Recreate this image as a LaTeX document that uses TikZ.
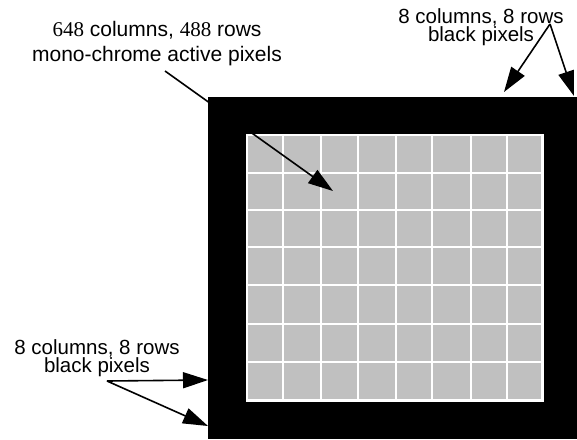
\documentclass[tikz,border=0pt]{standalone}
\usepackage{fontspec}
\setmainfont{Liberation Sans}
\newfontfamily\numfont{Liberation Serif}
\usetikzlibrary{arrows.meta}
\definecolor{cellgray}{RGB}{192,192,192}
\begin{document}
\begin{tikzpicture}[x=1pt,y=-1pt,
  lbl/.style={align=center,inner sep=0pt,font=\fontsize{20.5}{18.5}\selectfont},
  lbltop/.style={align=center,inner sep=0pt,font=\fontsize{21}{25}\selectfont},
  bigarrow/.style={line width=1.6pt,-{Triangle[length=25pt,width=16pt]}},
  cell/.style={fill=cellgray}]
\useasboundingbox (0,0) rectangle (577,439);
% black frame
\fill[black] (208,97) rectangle (577,439);
% white grid background
\fill[white] (245.5,133.5) rectangle (543.5,401.5);
% gray cells
\def\xs{{247,282.7,320.7,357.7,395.7,432,470.7,506.7,542}}
\def\ys{{134.7,172.7,210,247.3,285.3,324,362.3,400.3}}
\foreach \i in {0,...,7}{
  \foreach \j in {0,...,6}{
    \pgfmathsetmacro{\xa}{\xs[\i]+1}
    \pgfmathsetmacro{\xb}{\xs[\i+1]-1}
    \pgfmathsetmacro{\ya}{\ys[\j]+1}
    \pgfmathsetmacro{\yb}{\ys[\j+1]-1}
    \fill[cell] (\xa,\ya) rectangle (\xb,\yb);
  }
}
% labels
\node[lbltop] (active) at (157,43.5) {{\numfont 648} columns, {\numfont 488} rows\\mono-chrome active pixels};
\node[lbl] (tr) at (481,27) {8 columns, 8 rows\\black pixels};
\node[lbl] (bl) at (97,358) {8 columns, 8 rows\\black pixels};
% arrow coordinates
\coordinate (activeStart) at (165,71);
\coordinate (activeTip) at (333,191);
\coordinate (trV) at (550,24);
\coordinate (trTipA) at (504,92);
\coordinate (trTipB) at (574,96);
\coordinate (blV) at (107,381);
\coordinate (blTipA) at (208,380);
\coordinate (blTipB) at (208,426);
% arrows
\draw[bigarrow] (activeStart) -- (activeTip);
\draw[bigarrow] (trV) -- (trTipA);
\draw[bigarrow] (trV) -- (trTipB);
\draw[bigarrow] (blV) -- (blTipA);
\draw[bigarrow] (blV) -- (blTipB);
\end{tikzpicture}
\end{document}
